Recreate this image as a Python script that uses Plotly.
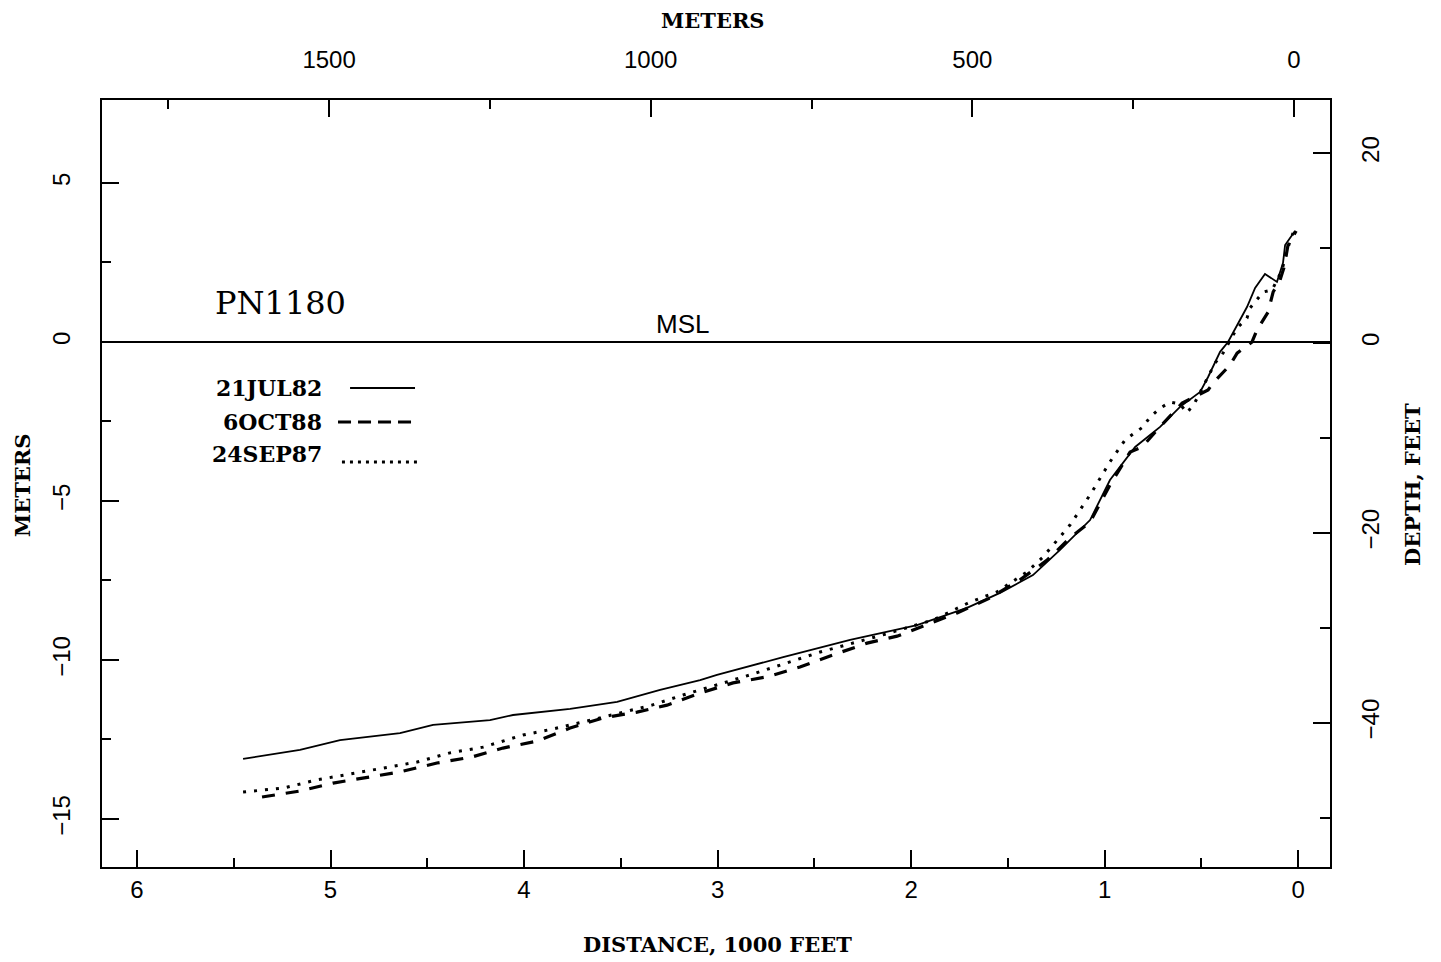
import plotly.graph_objects as go

# ---------------- data (distance in 1000 ft, elevation in meters) ----------------
dist_jul82 = [5.452, 5.158, 4.951, 4.641, 4.470, 4.176, 4.057, 3.762, 3.519, 3.297,
              3.090, 3.003, 2.661, 2.315, 1.969, 1.711, 1.540, 1.370, 1.230, 1.075,
              0.972, 0.842, 0.713, 0.610, 0.506, 0.465, 0.403, 0.362, 0.264, 0.222,
              0.171, 0.109, 0.078, 0.067, 0.016]
elev_jul82 = [-13.11, -12.83, -12.52, -12.30, -12.04, -11.89, -11.73, -11.54, -11.32, -10.94,
              -10.63, -10.47, -9.91, -9.37, -8.90, -8.36, -7.89, -7.33, -6.54, -5.60,
              -4.34, -3.30, -2.67, -2.04, -1.57, -1.10, -0.31, 0.00, 1.10, 1.70,
              2.14, 1.89, 2.48, 3.05, 3.49]

dist_oct88 = [5.354, 5.158, 4.987, 4.811, 4.641, 4.450, 4.269, 4.109, 3.933, 3.762,
              3.592, 3.416, 3.261, 3.090, 2.920, 2.744, 2.574, 2.403, 2.227, 2.072,
              1.902, 1.762, 1.592, 1.437, 1.297, 1.178, 1.075, 0.972, 0.868, 0.806,
              0.729, 0.599, 0.465, 0.439, 0.351, 0.315, 0.238, 0.212, 0.155, 0.129,
              0.093, 0.072, 0.052, 0.010]
elev_oct88 = [-14.31, -14.12, -13.87, -13.68, -13.52, -13.24, -13.05, -12.77, -12.55, -12.14,
              -11.82, -11.64, -11.42, -11.04, -10.72, -10.53, -10.22, -9.84, -9.47, -9.25,
              -8.84, -8.52, -8.05, -7.48, -6.86, -6.16, -5.66, -4.50, -3.46, -3.30,
              -2.77, -1.92, -1.51, -1.29, -0.72, -0.35, 0.00, 0.38, 0.94, 1.57,
              1.95, 2.36, 3.05, 3.49]

dist_sep87 = [5.452, 5.245, 5.070, 4.899, 4.729, 4.553, 4.383, 4.212, 4.005, 3.850,
              3.674, 3.504, 3.339, 3.178, 2.832, 2.470, 2.145, 1.886, 1.695, 1.556,
              1.401, 1.318, 1.178, 1.075, 0.972, 0.894, 0.801, 0.765, 0.713, 0.661,
              0.610, 0.574, 0.532, 0.429, 0.388, 0.315, 0.264, 0.248, 0.181, 0.134,
              0.083, 0.057, 0.026]
elev_sep87 = [-14.15, -14.03, -13.77, -13.58, -13.40, -13.21, -12.92, -12.74, -12.36, -12.17,
              -11.92, -11.67, -11.42, -11.10, -10.47, -9.75, -9.21, -8.74, -8.18, -7.86,
              -7.23, -6.76, -5.75, -4.81, -3.77, -3.08, -2.67, -2.36, -2.08, -1.89,
              -1.95, -2.23, -1.89, -0.66, -0.35, 0.44, 0.75, 1.07, 1.57, 1.64,
              2.26, 2.89, 3.43]

series_names = ["21JUL82", "6OCT88", "24SEP87"]

dist_minor_ticks = [0.5, 1.5, 2.5, 3.5, 4.5, 5.5]
meter_top_minor_ticks = [250, 750, 1250, 1750]
meter_left_minor_ticks = [-12.5, -7.5, -2.5, 2.5]
feet_minor_ticks = [-50, -30, -10, 10]

# ---------------- figure ----------------
fig = go.Figure()
fig.add_trace(go.Scatter(x=dist_jul82, y=elev_jul82, mode="lines", name=series_names[0],
                         line=dict(color="black", width=1.8)))
fig.add_trace(go.Scatter(x=dist_oct88, y=elev_oct88, mode="lines", name=series_names[1],
                         line=dict(color="black", width=3.2, dash="13px,11px")))
fig.add_trace(go.Scatter(x=dist_sep87, y=elev_sep87, mode="lines", name=series_names[2],
                         line=dict(color="black", width=3, dash="3px,8px")))
# invisible trace anchoring the secondary axes
fig.add_trace(go.Scatter(x=[0], y=[0], xaxis="x2", yaxis="y2", mode="markers",
                         marker=dict(opacity=0), hoverinfo="skip", showlegend=False))

tickfont = dict(family="Liberation Sans, Arial, sans-serif", size=24, color="black")
titlefont = dict(family="DejaVu Serif, serif", size=21, color="black")
common = dict(showgrid=False, zeroline=False, showline=True, linewidth=2, linecolor="black",
              ticks="inside", ticklen=17, tickwidth=2, tickcolor="black", tickfont=tickfont)

def minor(vals, ln):
    return dict(ticks="inside", ticklen=ln, tickwidth=2, tickcolor="black",
                tickmode="array", tickvals=vals, showgrid=False)

fig.update_layout(
    width=1433, height=954,
    margin=dict(l=94, r=111, t=92, b=95, autoexpand=False),
    paper_bgcolor="white", plot_bgcolor="white",
    showlegend=False,
    xaxis=dict(range=[6.181, -0.165], tickmode="linear", tick0=0, dtick=1,
               minor=minor(dist_minor_ticks, 9), ticklabelstandoff=0, **common),
    xaxis2=dict(range=[1853, -56], overlaying="x", side="top", tickmode="linear", tick0=0,
                dtick=500, minor=minor(meter_top_minor_ticks, 9), ticklabelstandoff=20,
                **common),
    yaxis=dict(range=[-16.51, 7.61], tickmode="linear", tick0=0, dtick=5, tickangle=-90,
               minor=minor(meter_left_minor_ticks, 9), ticklabelstandoff=20, **common),
    yaxis2=dict(range=[-55.2, 25.6], overlaying="y", side="right", tickmode="linear", tick0=0,
                dtick=20, tickangle=-90, minor=minor(feet_minor_ticks, 10),
                ticklabelstandoff=18, **common),
)

# MSL line
fig.add_shape(type="line", xref="paper", x0=0, x1=1, yref="y", y0=0, y1=0,
              line=dict(color="black", width=2))
fig.add_annotation(x=3.18, y=0, xref="x", yref="y", text="MSL", showarrow=False,
                   xanchor="center", yanchor="bottom", yshift=1,
                   font=dict(family="Liberation Sans, Arial, sans-serif", size=26, color="black"))
fig.add_annotation(x=0.0904, y=0.7353, xref="paper", yref="paper", text="PN1180",
                   showarrow=False, xanchor="left", yanchor="middle",
                   font=dict(family="DejaVu Serif, serif", size=32, color="black"))

# axis titles
bold = "<b>%s</b>"
title_specs = [
    ("METERS", 0.4976, 1.1043, 0),
    ("DISTANCE, 1000 FEET", 0.5016, -0.1004, 0),
    ("METERS", -0.0651, 0.498, -90),
    ("DEPTH, FEET", 1.0668, 0.498, -90),
]
for txt, ax, ay, ang in title_specs:
    fig.add_annotation(x=ax, y=ay, xref="paper", yref="paper", text=bold % txt,
                       showarrow=False, textangle=ang, xanchor="center", yanchor="middle",
                       font=titlefont)

# custom legend (text left of line sample)
legend_font = dict(family="DejaVu Serif, serif", size=22, color="black")
legend_rows = [
    (0.1808, 0.6245, 0.2020, 0.2549, 0.6245, dict(color="black", width=1.8)),
    (0.1808, 0.5802, 0.1922, 0.2524, 0.5802, dict(color="black", width=3.2, dash="13px,7px")),
    (0.1808, 0.5384, 0.1954, 0.2565, 0.5280, dict(color="black", width=3, dash="3px,5px")),
]
for name, (tx, ty, lx0, lx1, ly, ln) in zip(series_names, legend_rows):
    fig.add_annotation(x=tx, y=ty, xref="paper", yref="paper", text=bold % name,
                       showarrow=False, xanchor="right", yanchor="middle", font=legend_font)
    fig.add_shape(type="line", xref="paper", yref="paper", x0=lx0, x1=lx1, y0=ly, y1=ly,
                  line=ln)

fig.write_html("out.html")
